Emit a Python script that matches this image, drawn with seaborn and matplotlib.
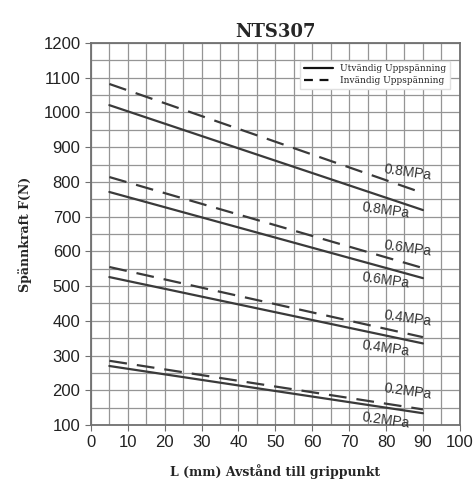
import numpy as np
import pandas as pd
import matplotlib
matplotlib.use("Agg")
import matplotlib.pyplot as plt
from matplotlib.ticker import MultipleLocator
from matplotlib.lines import Line2D
import seaborn as sns

# -----------------------------------------
# Data
# -----------------------------------------
L = [5, 90]
pressures = ["0.8MPa", "0.6MPa", "0.4MPa", "0.2MPa"]
utvandig = [[1021, 719], [771, 523], [526, 335], [270, 134]]   # solid
invandig = [[1082, 768], [814, 552], [555, 353], [285, 145]]   # dashed

rows = []
for p, u, i in zip(pressures, utvandig, invandig):
    for x, yu, yi in zip(L, u, i):
        rows.append({"L": x, "F": yu, "tryck": p, "typ": "Utvändig Uppspänning"})
        rows.append({"L": x, "F": yi, "tryck": p, "typ": "Invändig Uppspänning"})
df = pd.DataFrame(rows)

# -----------------------------------------
# Plot
# -----------------------------------------
sns.set_style("white")
fig = plt.figure(figsize=(4.76, 4.83), dpi=100)
ax = fig.add_axes([0.191, 0.120, 0.775, 0.791])

sns.lineplot(data=df, x="L", y="F", units="tryck", estimator=None,
             style="typ", dashes={"Utvändig Uppspänning": "", "Invändig Uppspänning": (8, 4.5)},
             color="#3a3a3a", linewidth=1.6, ax=ax, legend=False)

ax.set_xlim(0, 100)
ax.set_ylim(100, 1200)
ax.xaxis.set_major_locator(MultipleLocator(10))
ax.xaxis.set_minor_locator(MultipleLocator(5))
ax.yaxis.set_major_locator(MultipleLocator(100))
ax.yaxis.set_minor_locator(MultipleLocator(50))
ax.grid(which="both", color="#959595", linewidth=0.9)
ax.set_axisbelow(True)
for s in ax.spines.values():
    s.set_color("#707070")
    s.set_linewidth(1.3)
ax.tick_params(which="major", length=4, color="#707070", labelsize=12,
               labelcolor="#222222", bottom=True, left=True)
ax.tick_params(which="minor", length=0)
for t in ax.get_xticklabels() + ax.get_yticklabels():
    t.set_family("Liberation Sans")

# line labels: above dashed, below solid
for p, u, i in zip(pressures, utvandig, invandig):
    xd, xs = 86, 80
    yd = i[0] + (i[1] - i[0]) * (xd - L[0]) / (L[1] - L[0]) + 45
    ys = u[0] + (u[1] - u[0]) * (xs - L[0]) / (L[1] - L[0]) - 36
    ax.text(xd, yd, p, fontsize=10, family="Liberation Sans", color="#333333",
            rotation=-8, ha="center", va="center")
    ax.text(xs, ys, p, fontsize=10, family="Liberation Sans", color="#333333",
            rotation=-8, ha="center", va="center")

# legend
handles = [Line2D([], [], color="#111111", lw=1.6, ls="-"),
           Line2D([], [], color="#111111", lw=1.6, ls=(0, (4, 3)))]
leg = ax.legend(handles, ["Utvändig Uppspänning", "Invändig Uppspänning"],
                loc="upper right", bbox_to_anchor=(0.985, 0.965), frameon=True,
                fancybox=False, edgecolor="#e0e0e0", framealpha=1,
                prop={"family": "DejaVu Serif", "size": 6.5},
                handlelength=3.2, borderpad=0.4, labelspacing=0.3)

ax.set_title("NTS307", fontsize=13, fontweight="bold", family="DejaVu Serif", pad=4)
ax.set_xlabel("L (mm) Avstånd till grippunkt", fontsize=9, fontweight="bold",
              family="DejaVu Serif", labelpad=10)
ax.set_ylabel("Spännkraft F(N)", fontsize=9, fontweight="bold",
              family="DejaVu Serif", labelpad=8)

fig.savefig("out.png", dpi=100, facecolor="white")
